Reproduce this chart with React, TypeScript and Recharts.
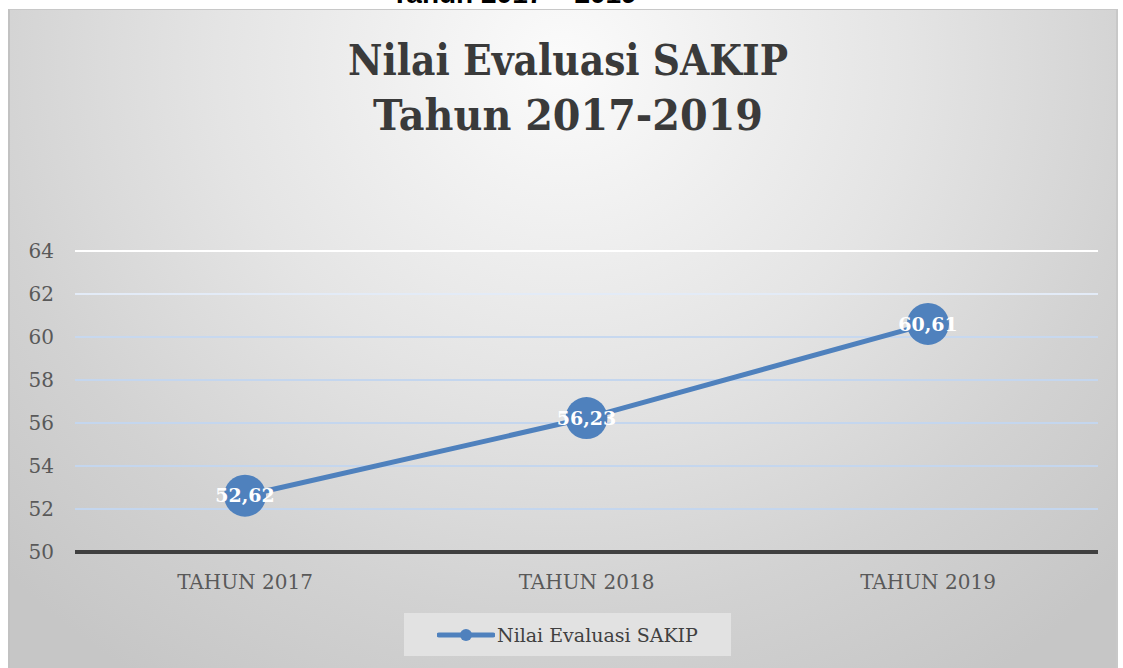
import React from 'react';
import { LineChart, Line, XAxis, YAxis, CartesianGrid, Legend, LabelList } from 'recharts';

const categories = ['TAHUN 2017', 'TAHUN 2018', 'TAHUN 2019'];
const sakipValues = [52.62, 56.23, 60.61];
const yTicks = [50, 52, 54, 56, 58, 60, 62, 64];
const seriesName = 'Nilai Evaluasi SAKIP';
const titleLines = ['Nilai Evaluasi SAKIP', 'Tahun 2017-2019'];
const cutTitle = 'Tahun 2017 – 2019';

const data = categories.map((c, i) => ({ category: c, value: sakipValues[i] }));

const SERIF = "'DejaVu Serif', 'Liberation Serif', serif";
const BLUE = '#4F81BD';

const fmt = (v: number) => v.toFixed(2).replace('.', ',');

const gridLine = (props: any) => {
  const { x1, x2, y1, y2 } = props;
  if (y1 > 545) return <g key={props.key} />;
  const t = Math.min(1, Math.max(0, (y1 - 251) / 90));
  const mix = (a: number, b: number) => Math.round(a + (b - a) * t);
  const col = `rgb(${mix(255, 196)},${mix(255, 214)},${mix(255, 238)})`;
  return <line key={props.key} x1={x1} x2={x2} y1={y1} y2={y2} stroke={col} strokeWidth={2} />;
};

const YTick = (props: any) => {
  const { y, payload } = props;
  return (
    <text x={54} y={y} dy={7} textAnchor="end" fill="#595959" fontFamily={SERIF} fontSize={20}>
      {payload.value}
    </text>
  );
};

const XTick = (props: any) => {
  const { x, payload } = props;
  return (
    <text x={x} y={589} textAnchor="middle" fill="#595959" fontFamily={SERIF} fontSize={20}>
      {payload.value}
    </text>
  );
};

const renderLegend = () => (
  <div
    style={{
      width: 327,
      height: 43,
      background: '#e2e2e2',
      display: 'flex',
      alignItems: 'center',
      boxSizing: 'border-box',
      paddingLeft: 33,
    }}
  >
    <svg width={58} height={20} style={{ display: 'block' }}>
      <line x1={2} x2={56} y1={10} y2={10} stroke={BLUE} strokeWidth={5} strokeLinecap="round" />
      <circle cx={29} cy={10} r={6} fill={BLUE} />
    </svg>
    <span style={{ fontFamily: SERIF, fontSize: 19, color: '#404040', marginLeft: 2 }}>{seriesName}</span>
  </div>
);

export default function App() {
  return (
    <div style={{ position: 'absolute', left: 0, top: 0, width: 1123, height: 668, background: '#ffffff', overflow: 'hidden' }}>
      <svg width={1123} height={20} style={{ position: 'absolute', left: 0, top: 0 }}>
        <text x={514} y={3} textAnchor="middle" fontFamily="'Liberation Sans', Arial, sans-serif" fontWeight="bold" fontSize={28} fill="#000">
          {cutTitle}
        </text>
      </svg>
      <div
        style={{
          position: 'absolute',
          left: 8,
          top: 9,
          width: 1110,
          height: 668,
          boxSizing: 'border-box',
          borderLeft: '2px solid #c2c2c2',
          borderTop: '1px solid #c8c8c8',
          borderRight: '2px solid #c8c8c8',
          background: 'radial-gradient(ellipse 70% 110% at 50% 8%, #fbfbfb 0%, #e4e4e4 45%, #d2d2d2 75%, #c6c6c6 100%)',
        }}
      />
      <svg width={1123} height={150} style={{ position: 'absolute', left: 0, top: 0 }}>
        <text x={568} y={75} textAnchor="middle" fontFamily={SERIF} fontWeight="bold" fontSize={43} fill="#3a3a3a" textLength={440} lengthAdjust="spacingAndGlyphs">
          {titleLines[0]}
        </text>
        <text x={568} y={130} textAnchor="middle" fontFamily={SERIF} fontWeight="bold" fontSize={43} fill="#3a3a3a" textLength={390} lengthAdjust="spacingAndGlyphs">
          {titleLines[1]}
        </text>
      </svg>
      <div style={{ position: 'absolute', left: 0, top: 0 }}>
        <LineChart width={1123} height={668} data={data} margin={{ top: 251, right: 25, left: 0, bottom: 33 }}>
          <CartesianGrid vertical={false} horizontal={gridLine} />
          <XAxis
            dataKey="category"
            height={40}
            tickLine={false}
            axisLine={{ stroke: '#404040', strokeWidth: 4 }}
            tick={<XTick />}
            interval={0}
            padding={{ left: 170, right: 170 }}
          />
          <YAxis
            width={75}
            domain={[50, 64]}
            ticks={yTicks}
            tickLine={false}
            axisLine={false}
            tick={<YTick />}
            interval={0}
          />
          <Legend
            verticalAlign="bottom"
            content={renderLegend}
            wrapperStyle={{ position: 'absolute', left: 404, top: 613, width: 327, height: 43 }}
          />
          <Line
            type="linear"
            dataKey="value"
            name={seriesName}
            stroke={BLUE}
            strokeWidth={5}
            dot={{ r: 21, fill: BLUE, stroke: BLUE, strokeWidth: 0 }}
            activeDot={false}
            isAnimationActive={false}
          >
            <LabelList
              dataKey="value"
              position="center"
              formatter={(v: any) => fmt(Number(v))}
              fill="#ffffff"
              fontFamily={SERIF}
              fontWeight="bold"
              fontSize={19}
            />
          </Line>
        </LineChart>
      </div>
    </div>
  );
}
